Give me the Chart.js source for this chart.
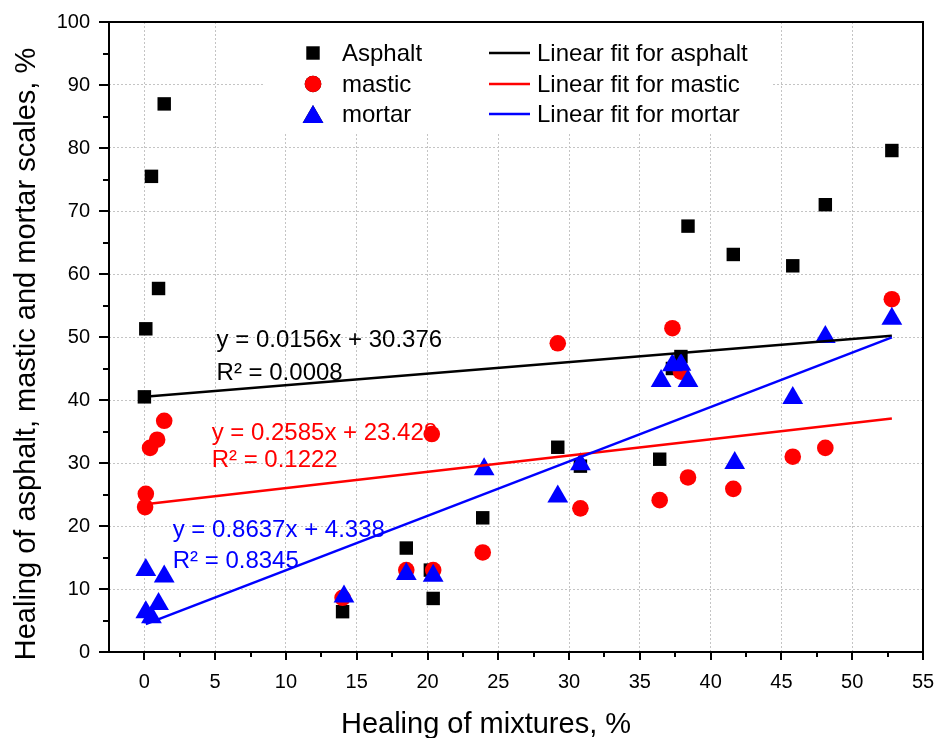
<!DOCTYPE html>
<html>
<head>
<meta charset="utf-8">
<title>Healing of asphalt, mastic and mortar scales</title>
<style>
  html, body { margin: 0; padding: 0; background: #ffffff; }
  #wrap { width: 937px; height: 738px; }
  canvas { display: block; }
</style>
<script src="https://cdn.jsdelivr.net/npm/chart.js@4.4.1/dist/chart.umd.min.js"></script>
</head>
<body>
<div id="wrap"><canvas id="chart" width="937" height="738"></canvas></div>
<script>
// ---- data: healing of the mixture (x, %) vs healing at each scale (y, %) ----
const asphaltX = [0.0, 0.1, 0.5, 1.0, 1.4, 14.0, 18.5, 20.2, 20.4, 23.9, 29.2, 30.8, 36.4, 37.3, 37.9, 38.4, 41.6, 45.8, 48.1, 52.8];
const asphaltY = [40.5, 51.3, 75.5, 57.7, 87.0, 6.4, 16.5, 13.0, 8.5, 21.3, 32.5, 29.5, 30.6, 45.0, 46.9, 67.6, 63.1, 61.3, 71.0, 79.6];

const masticX = [0.05, 0.1, 0.4, 0.9, 1.4, 14.0, 18.5, 20.4, 20.3, 23.9, 29.2, 30.8, 36.4, 37.3, 37.9, 38.4, 41.6, 45.8, 48.1, 52.8];
const masticY = [23.0, 25.1, 32.4, 33.7, 36.7, 8.6, 13.0, 13.0, 34.6, 15.8, 49.0, 22.8, 24.1, 51.4, 44.5, 27.7, 25.9, 31.0, 32.4, 56.0];

const mortarX = [0.1, 0.1, 0.5, 1.0, 1.4, 14.1, 18.5, 20.4, 24.0, 29.2, 30.8, 36.5, 37.3, 37.9, 38.4, 41.7, 45.8, 48.1, 52.8];
const mortarY = [13.0, 6.3, 5.5, 7.6, 12.0, 8.8, 12.4, 12.1, 29.0, 24.7, 29.8, 43.0, 45.5, 45.6, 43.0, 30.0, 40.3, 50.0, 52.9];

// ---- linear fit lines: end points [x0, x1] and [y0, y1] ----
const fitAsphaltX = [0.0, 52.8];
const fitAsphaltY = [40.5, 50.2];
const fitMasticX = [0.05, 52.8];
const fitMasticY = [23.44, 37.08];
const fitMortarX = [0.1, 52.8];
const fitMortarY = [4.42, 49.94];

// ---- fit equations printed beside the lines ----
const fitEquations = ['y = 0.0156x + 30.376', 'y = 0.2585x + 23.428', 'y = 0.8637x + 4.338'];
const fitR2 = ['R\u00B2 = 0.0008', 'R\u00B2 = 0.1222', 'R\u00B2 = 0.8345'];

// ---- series names, axis ticks and titles ----
const seriesNames = ['Asphalt', 'mastic', 'mortar'];
const fitNames = ['Linear fit for asphalt', 'Linear fit for mastic', 'Linear fit for mortar'];
const xTickValues = [0, 5, 10, 15, 20, 25, 30, 35, 40, 45, 50, 55];
const yTickValues = [0, 10, 20, 30, 40, 50, 60, 70, 80, 90, 100];
const xTitle = 'Healing of mixtures, %';
const yTitle = 'Healing of asphalt, mastic and mortar scales, %';

const FONT = '"Liberation Sans", Arial, Helvetica, sans-serif';
const BLACK = '#000000', RED = '#ff0000', BLUE = '#0000ff';

function pts(xs, ys) { return xs.map((x, i) => ({ x: x, y: ys[i] })); }

// white legend box with markers on the left and fit lines on the right
const legendBox = {
  id: 'legendBox',
  beforeDatasetsDraw(chart) {
    const ctx = chart.ctx;
    const ds = chart.data.datasets;
    ctx.save();
    ctx.fillStyle = '#ffffff';
    ctx.fillRect(263, 23, 509, 110);
    ctx.font = '24px ' + FONT;
    ctx.textBaseline = 'middle';
    ctx.textAlign = 'left';
    const rows = [53, 84, 114];
    for (let i = 0; i < 3; i++) {
      const m = ds[i];
      Chart.helpers.drawPoint(ctx, {
        pointStyle: m.pointStyle, radius: m.pointRadius, rotation: 0, borderWidth: 0
      }, 313, rows[i] + (m.pointStyle === 'triangle' ? 3 : 0));
      ctx.fillStyle = m.pointBackgroundColor;
      ctx.fill();
      ctx.fillStyle = BLACK;
      ctx.fillText(m.label, 342, rows[i] + 1);

      const l = ds[i + 3];
      ctx.strokeStyle = l.borderColor;
      ctx.lineWidth = 2.5;
      ctx.beginPath();
      ctx.moveTo(489, rows[i]);
      ctx.lineTo(530, rows[i]);
      ctx.stroke();
      ctx.fillStyle = BLACK;
      ctx.fillText(l.label, 537, rows[i] + 1);
    }
    ctx.restore();
  }
};

// regression equations written next to each fit line
const fitText = {
  id: 'fitText',
  beforeDatasetsDraw(chart) {
    const ctx = chart.ctx;
    const xs = chart.scales.x, ys = chart.scales.y;
    const spots = [
      { x: 5.1, y1: 49.7, y2: 44.4, color: BLACK },
      { x: 4.75, y1: 34.9, y2: 30.5, color: RED },
      { x: 2.0, y1: 19.4, y2: 14.6, color: BLUE }
    ];
    ctx.save();
    ctx.font = '24px ' + FONT;
    ctx.textAlign = 'left';
    ctx.textBaseline = 'middle';
    spots.forEach((s, i) => {
      const px = xs.getPixelForValue(s.x);
      ctx.fillStyle = s.color;
      ctx.fillText(fitEquations[i], px, ys.getPixelForValue(s.y1) + 1);
      ctx.fillText(fitR2[i], px, ys.getPixelForValue(s.y2) + 1);
    });
    ctx.restore();
  }
};

// closed frame, outward tick marks (major + minor) and axis titles
const frameAndTitles = {
  id: 'frameAndTitles',
  afterDraw(chart) {
    const ctx = chart.ctx;
    const a = chart.chartArea;
    const xs = chart.scales.x, ys = chart.scales.y;
    ctx.save();
    ctx.strokeStyle = BLACK;
    ctx.lineWidth = 2;
    ctx.strokeRect(a.left, a.top, a.right - a.left, a.bottom - a.top);

    ctx.lineWidth = 2;
    ctx.beginPath();
    yTickValues.forEach((v, i) => {
      const py = Math.round(ys.getPixelForValue(v));
      ctx.moveTo(a.left, py); ctx.lineTo(a.left - 10, py);
      if (i < yTickValues.length - 1) {
        const my = Math.round(ys.getPixelForValue((v + yTickValues[i + 1]) / 2));
        ctx.moveTo(a.left, my); ctx.lineTo(a.left - 6, my);
      }
    });
    xTickValues.forEach((v, i) => {
      const px = Math.round(xs.getPixelForValue(v));
      ctx.moveTo(px, a.bottom); ctx.lineTo(px, a.bottom + 8);
      const prev = i === 0 ? xs.min : xTickValues[i - 1];
      const mx = Math.round(xs.getPixelForValue((v + prev) / 2));
      if (i > 0) { ctx.moveTo(mx, a.bottom); ctx.lineTo(mx, a.bottom + 5); }
    });
    ctx.stroke();

    ctx.fillStyle = BLACK;
    ctx.font = '29px ' + FONT;
    ctx.textAlign = 'center';
    ctx.textBaseline = 'alphabetic';
    ctx.fillText(xTitle, 486, 733);

    ctx.translate(35, 354);
    ctx.rotate(-Math.PI / 2);
    ctx.fillText(yTitle, 0, 0);
    ctx.restore();
  }
};

const chart = new Chart(document.getElementById('chart'), {
  type: 'scatter',
  data: {
    datasets: [
      { label: seriesNames[0], data: pts(asphaltX, asphaltY), pointStyle: 'rect', pointRadius: 9.5,
        pointBackgroundColor: BLACK, pointBorderWidth: 0, backgroundColor: BLACK, order: 6 },
      { label: seriesNames[1], data: pts(masticX, masticY), pointStyle: 'circle', pointRadius: 8.3,
        pointBackgroundColor: RED, pointBorderWidth: 0, backgroundColor: RED, order: 5 },
      { label: seriesNames[2], data: pts(mortarX, mortarY), pointStyle: 'triangle', pointRadius: 12,
        pointBackgroundColor: BLUE, pointBorderWidth: 0, backgroundColor: BLUE, order: 4 },
      { label: fitNames[0], data: pts(fitAsphaltX, fitAsphaltY), showLine: true, pointRadius: 0,
        borderColor: BLACK, borderWidth: 2.5, fill: false, order: 3 },
      { label: fitNames[1], data: pts(fitMasticX, fitMasticY), showLine: true, pointRadius: 0,
        borderColor: RED, borderWidth: 2.5, fill: false, order: 2 },
      { label: fitNames[2], data: pts(fitMortarX, fitMortarY), showLine: true, pointRadius: 0,
        borderColor: BLUE, borderWidth: 2.5, fill: false, order: 1 }
    ]
  },
  options: {
    responsive: false,
    animation: false,
    devicePixelRatio: 1,
    layout: { padding: { top: 22, right: 14, left: 0, bottom: 0 }, autoPadding: false },
    plugins: {
      legend: { display: false },
      tooltip: { enabled: false },
      title: { display: false }
    },
    scales: {
      x: {
        type: 'linear',
        min: -2.5,
        max: 55,
        afterBuildTicks(scale) { scale.ticks = xTickValues.map(v => ({ value: v })); },
        afterFit(scale) {
          scale.height = 86;
          scale.paddingLeft = 0; scale.paddingRight = 0;
          scale.paddingTop = 0; scale.paddingBottom = 0;
        },
        ticks: { color: BLACK, font: { family: FONT, size: 20 }, padding: 18, maxRotation: 0, autoSkip: false },
        grid: { color: '#c4c4c4', lineWidth: 1, drawTicks: false },
        border: { display: false, dash: [2, 2] },
        title: { display: false }
      },
      y: {
        type: 'linear',
        min: 0,
        max: 100,
        afterBuildTicks(scale) { scale.ticks = yTickValues.map(v => ({ value: v })); },
        afterFit(scale) {
          scale.width = 109;
          scale.paddingLeft = 0; scale.paddingRight = 0;
          scale.paddingTop = 0; scale.paddingBottom = 0;
        },
        ticks: { color: BLACK, font: { family: FONT, size: 20 }, padding: 19, autoSkip: false },
        grid: { color: '#c4c4c4', lineWidth: 1, drawTicks: false },
        border: { display: false, dash: [2, 2] },
        title: { display: false }
      }
    }
  },
  plugins: [legendBox, fitText, frameAndTitles]
});
</script>
</body>
</html>
